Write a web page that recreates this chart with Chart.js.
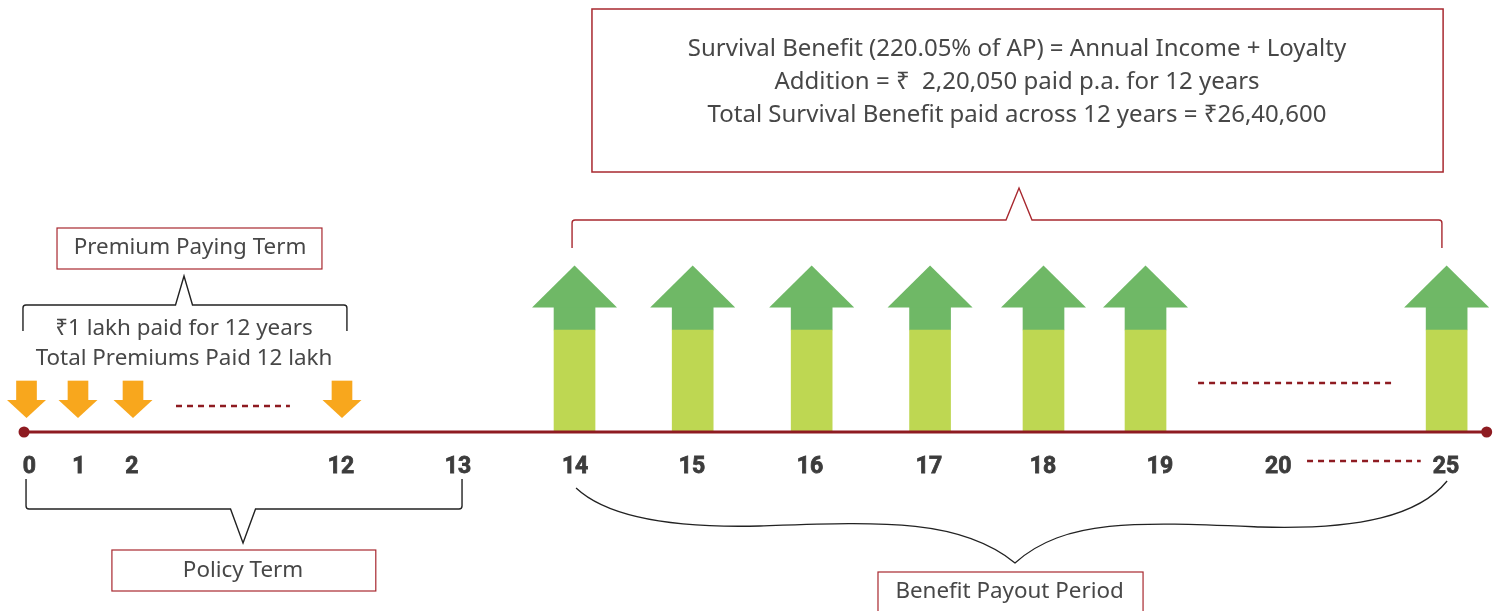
<!DOCTYPE html>
<html>
<head>
<meta charset="utf-8">
<script src="https://cdn.jsdelivr.net/npm/chart.js@4.4.1/dist/chart.umd.min.js"></script>
<style>
  html, body { margin: 0; padding: 0; background: #fff; }
  #wrap { width: 1502px; height: 611px; }
</style>
</head>
<body>
<div id="wrap"><canvas id="timeline" width="1502" height="611"></canvas></div>
<script>
// =====================================================
// DATA
// =====================================================

// policy years shown on the timeline, and where each sits along it
const yearLabels = ["0", "1", "2", "12", "13", "14", "15", "16", "17", "18", "19", "20", "25"];
const yearSlots = [0, 0.42, 0.87, 2.645, 3.638, 4.632, 5.624, 6.626, 7.636, 8.604, 9.597, 10.6, 12.025];

// premiums paid (₹1 lakh each)
const premiumYears = [0, 1, 2, 12];
const premiumSlots = [-0.025, 0.412, 0.879, 2.653];

// survival benefit paid (₹2,20,050 each)
const benefitYears = [14, 15, 16, 17, 18, 19, 25];
const benefitSlots = [4.627, 5.63, 6.64, 7.645, 8.608, 9.474, 12.03];

const axisEnds = [-0.046, 12.37];

const benefitLines = [
  "Survival Benefit (220.05% of AP) = Annual Income + Loyalty",
  "Addition = ₹  2,20,050 paid p.a. for 12 years",
  "Total Survival Benefit paid across 12 years = ₹26,40,600"
];

const premiumLines = [
  "₹1 lakh paid for 12 years",
  "Total Premiums Paid 12 lakh"
];

// =====================================================
// STYLE
// =====================================================

const RED = "#8e1b21";
const BOX_RED = "#a8282f";
const TEXT = "#474747";
const ORANGE = "#f8a71d";
const GREEN_DARK = "#6fb866";
const GREEN_LIGHT = "#bed752";
const BODY_FONT = '22.4px "Noto Sans"';
const TOP_FONT = '24px "Noto Sans"';

// arrow heights, in units above the timeline
const BENEFIT_STEM = 1.02;
const BENEFIT_NECK = 1.245;
const BENEFIT_TIP = 1.665;
const PREMIUM_TOP = 0.51;
const PREMIUM_NECK = 0.32;
const PREMIUM_TIP = 0.14;

function dashed(x0, x1, y) {
  return {
    type: "line",
    data: [{ x: x0, y }, { x: x1, y }],
    borderColor: RED,
    borderWidth: 2.5,
    borderDash: [6, 5],
    pointRadius: 0
  };
}

// =====================================================
// ANNOTATIONS
// =====================================================

const annotations = {
  id: "annotations",

  afterDatasetsDraw(chart) {

    const ctx = chart.ctx;
    const xs = chart.scales.x;
    const ys = chart.scales.y;
    const px = v => xs.getPixelForValue(v);
    const py = v => ys.getPixelForValue(v);

    ctx.save();

    // arrow heads
    ctx.fillStyle = GREEN_DARK;
    benefitSlots.forEach(s => {
      ctx.beginPath();
      ctx.moveTo(px(s) - 42.5, py(BENEFIT_NECK));
      ctx.lineTo(px(s), py(BENEFIT_TIP));
      ctx.lineTo(px(s) + 42.5, py(BENEFIT_NECK));
      ctx.closePath();
      ctx.fill();
    });

    ctx.fillStyle = ORANGE;
    premiumSlots.forEach(s => {
      ctx.beginPath();
      ctx.moveTo(px(s) - 19.5, py(PREMIUM_NECK));
      ctx.lineTo(px(s), py(PREMIUM_TIP));
      ctx.lineTo(px(s) + 19.5, py(PREMIUM_NECK));
      ctx.closePath();
      ctx.fill();
    });

    // boxes
    function box(x0, x1, y0, y1, color, width) {
      ctx.strokeStyle = color;
      ctx.lineWidth = width;
      ctx.strokeRect(px(x0), py(y0), px(x1) - px(x0), py(y1) - py(y0));
    }

    box(4.775, 12.0, 4.23, 2.60, BOX_RED, 1.5);
    box(0.234, 2.483, 2.04, 1.63, BOX_RED, 1.2);
    box(0.70, 2.94, -1.18, -1.59, BOX_RED, 1.2);
    box(7.203, 9.453, -1.40, -1.85, BOX_RED, 1.2);

    // text
    ctx.fillStyle = TEXT;
    ctx.textAlign = "center";
    ctx.textBaseline = "middle";

    ctx.font = TOP_FONT;
    benefitLines.forEach((t, i) => {
      ctx.fillText(t, px(8.383), py(3.83 - i * 0.33));
    });

    ctx.font = BODY_FONT;
    premiumLines.forEach((t, i) => {
      ctx.fillText(t, px(1.312), py(1.035 - i * 0.30));
    });

    ctx.fillText("Premium Paying Term", px(1.363), py(1.84));
    ctx.fillText("Policy Term", px(1.813), py(-1.385));
    ctx.fillText("Benefit Payout Period", px(8.32), py(-1.60));

    // square brackets
    function bracket(x0, x1, yBar, yLeg, xTip, yTip, half, color) {
      const a = px(x0), b = px(x1), t = px(xTip);
      const bar = py(yBar), leg = py(yLeg), tip = py(yTip);
      const r = 3;
      const dir = leg > bar ? 1 : -1;
      ctx.strokeStyle = color;
      ctx.lineWidth = 1.4;
      ctx.beginPath();
      ctx.moveTo(a, leg);
      ctx.lineTo(a, bar + dir * r);
      ctx.quadraticCurveTo(a, bar, a + r, bar);
      ctx.lineTo(t - half, bar);
      ctx.lineTo(t, tip);
      ctx.lineTo(t + half, bar);
      ctx.lineTo(b - r, bar);
      ctx.quadraticCurveTo(b, bar, b, bar + dir * r);
      ctx.lineTo(b, leg);
      ctx.stroke();
    }

    bracket(-0.055, 2.695, 1.27, 1.01, 1.312, 1.56, 8.5, "#222");
    bracket(-0.029, 3.672, -0.77, -0.47, 1.813, -1.11, 12.5, "#222");
    bracket(4.606, 11.99, 2.12, 1.84, 8.40, 2.44, 13, BOX_RED);

    // curly brace under the payout years
    ctx.strokeStyle = "#222";
    ctx.lineWidth = 1.3;
    ctx.beginPath();
    ctx.moveTo(px(4.64), py(-0.56));
    ctx.bezierCurveTo(px(4.93), py(-0.88), px(5.52), py(-0.96), px(6.2), py(-0.94));
    ctx.bezierCurveTo(px(7.22), py(-0.90), px(7.90), py(-0.86), px(8.366), py(-1.31));
    ctx.bezierCurveTo(px(8.79), py(-0.86), px(9.43), py(-0.90), px(10.45), py(-0.95));
    ctx.bezierCurveTo(px(11.3), py(-0.98), px(11.8), py(-0.83), px(12.034), py(-0.49));
    ctx.stroke();

    ctx.restore();
  }
};

// =====================================================
// CHART
// =====================================================

const timelineChart =
  new Chart(
    document.getElementById("timeline"),
    {
      type: "bar",

      data: {
        datasets: [
          {
            type: "line",
            label: "Timeline",
            data: axisEnds.map(x => ({ x, y: 0 })),
            borderColor: RED,
            borderWidth: 3,
            pointRadius: 5.5,
            pointBackgroundColor: RED,
            pointBorderWidth: 0
          },
          dashed(1.244, 2.211, 0.26),
          dashed(9.92, 11.57, 0.49),
          dashed(10.845, 11.81, -0.29),
          {
            label: "Survival benefit",
            data: benefitSlots.map(x => ({ x, y: [0, BENEFIT_STEM] })),
            backgroundColor: GREEN_LIGHT,
            barThickness: 41,
            grouped: false
          },
          {
            label: "Survival benefit neck",
            data: benefitSlots.map(x => ({ x, y: [BENEFIT_STEM, BENEFIT_NECK + 0.005] })),
            backgroundColor: GREEN_DARK,
            barThickness: 41,
            grouped: false
          },
          {
            label: "Premium",
            data: premiumSlots.map(x => ({ x, y: [PREMIUM_NECK - 0.005, PREMIUM_TOP] })),
            backgroundColor: ORANGE,
            barThickness: 20,
            grouped: false
          }
        ]
      },

      options: {
        responsive: false,
        animation: false,
        devicePixelRatio: 1,
        layout: { padding: 0, autoPadding: false },

        plugins: {
          legend: { display: false },
          tooltip: { enabled: false }
        },

        scales: {
          x: {
            type: "linear",
            offset: false,
            min: -0.25,
            max: 12.5,
            position: { y: 0 },
            afterBuildTicks: scale => {
              scale.ticks = yearSlots.map(v => ({ value: v }));
            },
            afterFit: scale => {
              scale.paddingLeft = 0;
              scale.paddingRight = 0;
            },
            grid: { display: false, drawTicks: false, offset: false },
            border: { display: false },
            ticks: {
              autoSkip: false,
              maxRotation: 0,
              padding: 21,
              color: "#3c3c3c",
              textStrokeColor: "#3c3c3c",
              textStrokeWidth: 0.8,
              font: { family: "Roboto", size: 23, weight: "bold" },
              callback: (value, index) => yearLabels[index]
            }
          },
          y: {
            type: "linear",
            display: false,
            min: -1.79,
            max: 4.32
          }
        }
      },

      plugins: [annotations]
    }
  );
</script>
</body>
</html>
